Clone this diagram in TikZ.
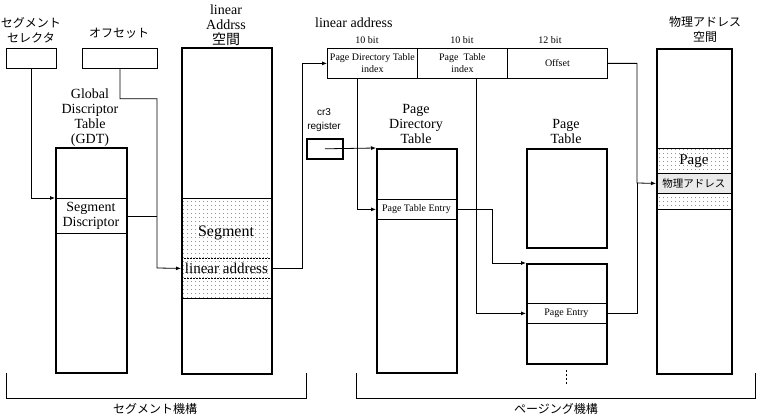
\documentclass[tikz,border=0pt]{standalone}
\usepackage{fontspec}
\setmainfont{Liberation Serif}
\setsansfont{Liberation Sans}
\newfontfamily\jp{Noto Sans CJK JP}
\usetikzlibrary{arrows.meta,patterns.meta}
\newcommand{\fsz}[2]{\fontsize{#1}{#2}\selectfont}
\tikzset{
  heavybox/.style={draw, line width=1.6pt, inner sep=0pt, anchor=north west},
  lightbox/.style={draw, line width=0.8pt, inner sep=0pt, anchor=north west, align=center},
  conn/.style={line width=0.8pt},
  arr/.style={conn, -{Latex[length=5pt,width=4pt]}},
  lbl/.style={align=center, inner sep=0pt},
  sparse/.style={pattern={Dots[distance=4pt,radius=0.45pt]}},
  dense/.style={pattern={Dots[distance=2pt,radius=0.45pt]}}
}
\begin{document}
\begin{tikzpicture}[x=1pt,y=-1pt]
\useasboundingbox (0,0) rectangle (757,417);

% ---------- segmentation side ----------
\node[lightbox, minimum width=50pt, minimum height=20pt] (sel) at (6,48) {};
\node[lightbox, minimum width=75pt, minimum height=20pt] (off) at (82,48) {};
\node[lbl, font=\jp\fsz{12}{15}] (sellbl) at (31,30) {セグメント\\セレクタ};
\node[lbl, font=\jp\fsz{12}{15}] (offlbl) at (119,33) {オフセット};

\node[heavybox, minimum width=71pt, minimum height=225pt] (gdt) at (55,147) {};
\node[lightbox, minimum width=71pt, minimum height=35pt, font=\fsz{14}{15}] (sd) at (55,198) {Segment\\Discriptor};
\node[lbl, font=\fsz{14}{15}] (gdtlbl) at (90,118) {Global\\Discriptor\\Table\\(GDT)};

\fill[sparse] (181,198) rectangle (271,298);
\node[heavybox, minimum width=90pt, minimum height=326pt] (las) at (181,47) {};
\node[lightbox, minimum width=90pt, minimum height=100pt] (segr) at (181,198) {};
\node[lbl, font=\fsz{16}{18}] (segt) at (226,233) {Segment};
\node[lightbox, dash pattern=on 2pt off 1pt, minimum width=90pt, minimum height=20pt, font=\fsz{15}{16}] (la) at (181,258) {linear address};
\node[lbl, font=\fsz{14}{15}] (laslbl) at (226,25) {linear\\Addrss\\{\jp 空間}};

% ---------- linear address ----------
\node[anchor=west, inner sep=0pt, font=\fsz{14}{15}] (linlbl) at (315,23) {linear address};
\node[lightbox, minimum width=90pt, minimum height=30pt, font=\fsz{10}{12}] (pdi) at (327,48) {Page Directory Table\\index};
\node[lightbox, minimum width=90pt, minimum height=30pt, font=\fsz{10}{12}] (pti) at (417,48) {Page\ \ Table\\index};
\node[lightbox, minimum width=100pt, minimum height=30pt, font=\fsz{10}{12}] (ofs) at (507,48) {Offset};
\node[lbl, font=\fsz{10}{12}] (b1) at (367,40) {10 bit};
\node[lbl, font=\fsz{10}{12}] (b2) at (462,40) {10 bit};
\node[lbl, font=\fsz{10}{12}] (b3) at (550,40) {12 bit};

% ---------- paging side ----------
\node[heavybox, minimum width=36pt, minimum height=20pt] (cr3) at (306,138) {};
\node[lbl, font=\sffamily\fsz{10}{14}] (cr3lbl) at (324,120) {cr3\\register};

\node[heavybox, minimum width=80pt, minimum height=224pt] (pdt) at (376,148) {};
\node[lightbox, minimum width=80pt, minimum height=20pt, font=\fsz{10}{12}] (pte) at (376,199) {Page Table Entry};
\node[lbl, font=\fsz{14}{15}] (pdtlbl) at (416,124) {Page\\Directory\\Table};

\node[heavybox, minimum width=80pt, minimum height=99pt] (pt1) at (526,148) {};
\node[lbl, font=\fsz{14}{15}] (ptlbl) at (566,131) {Page\\Table};
\node[heavybox, minimum width=80pt, minimum height=100pt] (pt2) at (526,263) {};
\node[lightbox, minimum width=80pt, minimum height=20pt, font=\fsz{10}{12}] (pe) at (526,303) {Page Entry};
\draw[conn, dash pattern=on 2pt off 2pt] (566,370) -- (566,384);

\fill[sparse] (656,148) rectangle (731,209);
\fill[white] (656,173) rectangle (731,193);
\fill[dense] (656,173) rectangle (731,193);
\node[heavybox, minimum width=75pt, minimum height=325pt] (phys) at (656,48) {};
\node[lightbox, minimum width=75pt, minimum height=25pt, font=\fsz{15}{16}] (pg) at (656,148) {Page};
\node[lightbox, minimum width=75pt, minimum height=20pt, font=\jp\fsz{10.5}{12}] (pa) at (656,173) {物理アドレス};
\node[lightbox, minimum width=75pt, minimum height=16pt] (pb) at (656,193) {};
\node[lbl, font=\jp\fsz{12}{15}] (physlbl) at (705,29) {物理アドレス\\空間};

% ---------- connectors ----------
\coordinate (jn) at (157,268);
\coordinate (jp) at (637,183);
\draw[arr] (sel.south) |- (sd.north west);
\draw[arr] (off.south) -- ++(0,30) -| (jn) -- (la.west);
\draw[conn] (sd.east) -- (sd.east -| jn);
\draw[arr] (la.east) -- ++(31,0) |- (pdi.west);
\draw[arr] ([xshift=-15pt]pdi.south) |- (pte.west);
\draw[arr] ([xshift=14pt]pti.south) |- (pe.west);
\draw[arr] (cr3.center) -- (pdt.north west);
\draw[arr] (pte.east) -- ++(36,0) |- (pt2.north west);
\draw[arr] (ofs.east) -| (jp) -- (pa.west);
\draw[conn] (pe.east) -| (jp);

% ---------- brackets ----------
\draw[conn] (6,373) -- (6,398) -- (306,398) -- (306,373);
\draw[conn] (356,373) -- (356,398) -- (755.5,398) -- (755.5,373);
\node[lbl, font=\jp\fsz{12}{14}] (seglbl) at (155,409) {セグメント機構};
\node[lbl, font=\jp\fsz{12}{14}] (paglbl) at (556,409) {ページング機構};
\end{tikzpicture}
\end{document}
